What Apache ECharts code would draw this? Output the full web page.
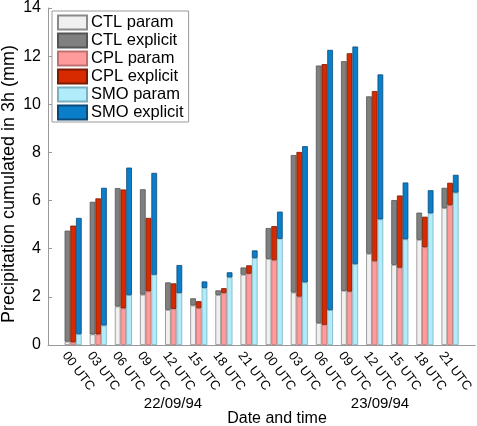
<!DOCTYPE html>
<html>
<head>
<meta charset="utf-8">
<script src="https://cdn.jsdelivr.net/npm/echarts@6/dist/echarts.min.js"></script>
<style>
  html, body { margin: 0; padding: 0; background: #fff; }
  #main { width: 477px; height: 426px; }
</style>
</head>
<body>
<div id="main"></div>
<script>
// categories (blank ones at both ends give the half-step padding of the original)
var hours = ['00 UTC', '03 UTC', '06 UTC', '09 UTC', '12 UTC', '15 UTC', '18 UTC', '21 UTC'];
var categories = [''].concat(hours, hours, ['']);
var dayLabels = ['22/09/94', '23/09/94'];
var yTicks = [0, 2, 4, 6, 8, 10, 12, 14];

// parametrised part and total (top of bar), mm per 3h
var ctlParam = [0.14, 0.44, 1.60, 2.09, 1.46, 1.64, 2.08, 2.92, 3.58, 2.18, 0.91, 2.25, 3.79, 3.33, 4.37, 5.69];
var ctlTotal = [4.75, 5.95, 6.52, 6.47, 2.60, 1.94, 2.27, 3.22, 4.86, 7.89, 11.61, 11.79, 10.33, 6.02, 5.50, 6.53];
var cplParam = [0.11, 0.44, 1.52, 2.23, 1.50, 1.53, 2.16, 2.96, 3.52, 2.01, 0.84, 2.22, 3.48, 3.21, 4.06, 5.81];
var cplTotal = [4.96, 6.09, 6.46, 5.28, 2.56, 1.82, 2.36, 3.31, 4.94, 8.02, 11.67, 12.12, 10.55, 6.21, 5.33, 6.74];
var smoParam = [0.45, 0.81, 2.07, 2.92, 2.16, 2.37, 2.81, 3.61, 4.41, 2.60, 1.45, 3.36, 5.22, 4.39, 5.47, 6.33];
var smoTotal = [5.28, 6.53, 7.37, 7.15, 3.32, 2.64, 3.02, 3.93, 5.54, 8.26, 12.26, 12.40, 11.24, 6.75, 6.43, 7.07];

var FONT = 'Liberation Sans, Arial, Helvetica, sans-serif';

function pad(arr) {
  return [null].concat(arr, [null]);
}
function explicitPart(total, param) {
  return total.map(function (t, i) { return +(t - param[i]).toFixed(2); });
}

function barSeries(name, stack, data, fill, border) {
  return {
    name: name,
    type: 'bar',
    stack: stack,
    data: pad(data),
    barGap: '0%',
    barCategoryGap: '32%',
    itemStyle: { color: fill, borderColor: border, borderWidth: 0.8 },
    emphasis: { disabled: true }
  };
}

var myChart = echarts.init(document.getElementById('main'));
myChart.setOption({
  animation: false,
  textStyle: { fontFamily: FONT },
  grid: { left: 48, right: 1, top: 7, bottom: 81, containLabel: false },
  legend: {
    orient: 'vertical',
    left: 52,
    top: 11,
    padding: [3, 5, 1, 5],
    width: 130,
    itemWidth: 29,
    itemHeight: 14,
    itemGap: 1,
    icon: 'rect',
    borderColor: '#999',
    borderWidth: 1,
    backgroundColor: '#fff',
    textStyle: { fontSize: 16.5, color: '#000', fontFamily: FONT, padding: [0, 0, 0, -1] },
    data: ['CTL param', 'CTL explicit', 'CPL param', 'CPL explicit', 'SMO param', 'SMO explicit']
  },
  xAxis: {
    type: 'category',
    data: categories,
    boundaryGap: false,
    axisLine: { lineStyle: { color: '#999', width: 1 } },
    axisTick: { show: false },
    axisLabel: {
      interval: 0,
      rotate: -53,
      fontSize: 13,
      color: '#000',
      margin: 2,
      align: 'left',
      verticalAlign: 'top',
      padding: [4, 0, 0, 0],
      fontFamily: FONT
    },
    splitLine: { show: false }
  },
  yAxis: {
    type: 'value',
    min: yTicks[0],
    max: yTicks[yTicks.length - 1],
    interval: 2,
    axisLine: { show: true, lineStyle: { color: '#999', width: 1 } },
    axisTick: { show: true, inside: true, length: 4, lineStyle: { color: '#999' } },
    axisLabel: { fontSize: 16, color: '#000', margin: 7, fontFamily: FONT },
    splitLine: { show: false }
  },
  graphic: [
    {
      type: 'text', x: 9, y: 184, rotation: Math.PI / 2,
      style: { text: 'Precipitation cumulated in 3h (mm)', fontSize: 18, fill: '#000', fontFamily: FONT, align: 'center', verticalAlign: 'middle' }
    },
    { type: 'text', x: 173, y: 404, style: { text: dayLabels[0], fontSize: 15, fill: '#000', fontFamily: FONT, align: 'center', verticalAlign: 'middle' } },
    { type: 'text', x: 380, y: 404, style: { text: dayLabels[1], fontSize: 15, fill: '#000', fontFamily: FONT, align: 'center', verticalAlign: 'middle' } },
    { type: 'text', x: 277, y: 419, style: { text: 'Date and time', fontSize: 16, fill: '#000', fontFamily: FONT, align: 'center', verticalAlign: 'middle' } }
  ],
  series: [
    barSeries('CTL param', 'CTL', ctlParam, '#f0f0f0', '#8a8a8a'),
    barSeries('CTL explicit', 'CTL', explicitPart(ctlTotal, ctlParam), '#808080', '#555555'),
    barSeries('CPL param', 'CPL', cplParam, '#ff9b9b', '#c07070'),
    barSeries('CPL explicit', 'CPL', explicitPart(cplTotal, cplParam), '#d72a00', '#7a1a00'),
    barSeries('SMO param', 'SMO', smoParam, '#b0ecfa', '#7ab0c0'),
    barSeries('SMO explicit', 'SMO', explicitPart(smoTotal, smoParam), '#0a7ec8', '#0a4a7a')
  ]
});
</script>
</body>
</html>
